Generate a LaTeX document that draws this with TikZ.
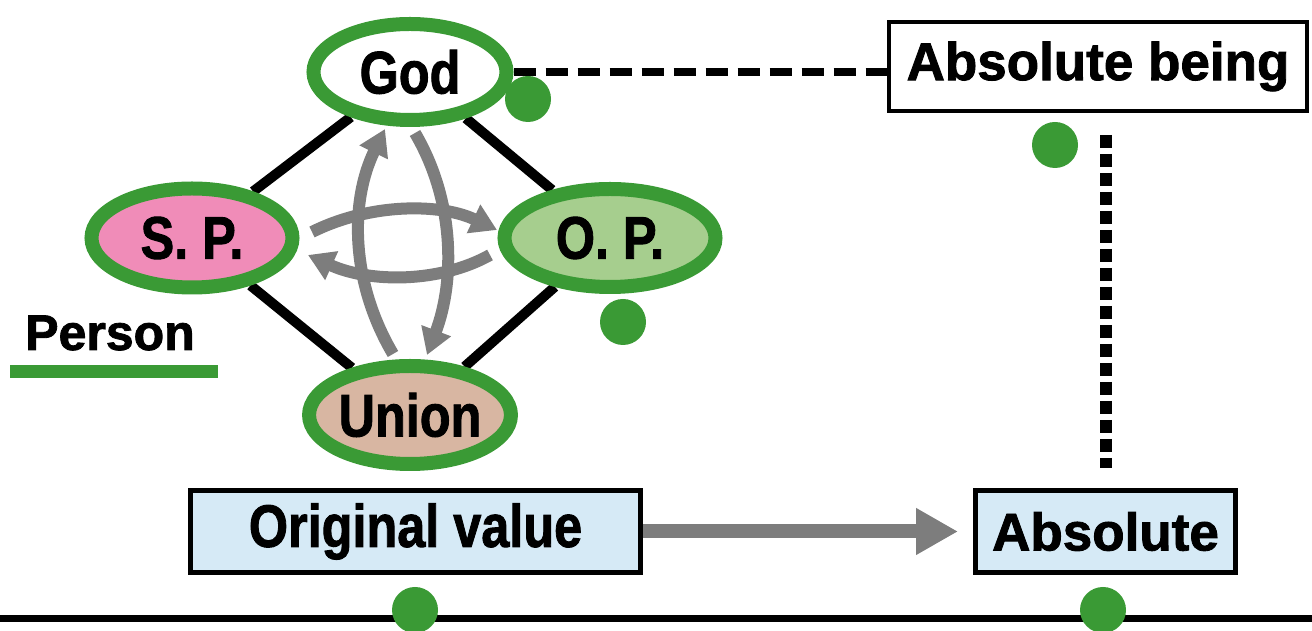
\documentclass[tikz,border=0pt]{standalone}
\usepackage{fontspec}
\setmainfont{Liberation Sans}[BoldFeatures={FakeBold=1.6}]
\usepackage{graphicx}
\usetikzlibrary{shapes.geometric,arrows.meta,backgrounds}

\definecolor{pgreen}{RGB}{58,154,53}
\definecolor{spfill}{RGB}{240,140,184}
\definecolor{opfill}{RGB}{166,206,142}
\definecolor{unfill}{RGB}{216,182,162}
\definecolor{boxblue}{RGB}{214,234,246}
\definecolor{arcgray}{RGB}{125,125,125}
\newcommand{\narrow}[1]{\scalebox{0.84}[1]{#1}}

\begin{document}
\begin{tikzpicture}[x=1pt,y=1pt,
  every node/.style={font=\bfseries\fontsize{60}{64}\selectfont},
  oval/.style={ellipse,draw=pgreen,line width=14pt,inner sep=0pt},
  valbox/.style={draw=black,line width=5pt,fill=boxblue,inner sep=0pt,minimum height=82pt},
  dot/.style={circle,fill=pgreen,inner sep=0pt,minimum size=46pt},
  diag/.style={line width=10pt},
  grayarc/.style={draw=arcgray,line width=12pt,-{Triangle[length=26pt,width=30pt]}}]
\useasboundingbox (0,0) rectangle (1312,631);
% ovals of the person
\node[oval,fill=white,minimum width=193pt,minimum height=96pt] (god) at (410,559) {\narrow{God}};
\node[oval,fill=spfill,minimum width=201pt,minimum height=99pt] (sp) at (192,393) {\narrow{S. P.}};
\node[oval,fill=opfill,minimum width=211pt,minimum height=98pt] (op) at (610,393) {\narrow{O. P.}};
\node[oval,fill=unfill,minimum width=196pt,minimum height=98pt] (union) at (410,216) {\narrow{Union}};
\begin{scope}[on background layer]
\draw[diag] (god) -- (sp) -- (union) -- (op) -- (god);
\end{scope}
% give and take
\draw[grayarc] (393,277) .. controls (350,350) and (350,430) .. (385,502);
\draw[grayarc] (415,498) .. controls (455,430) and (455,350) .. (427,276);
\draw[grayarc] (312,399) .. controls (370,428) and (440,428) .. (497,401);
\draw[grayarc] (490,376) .. controls (440,348) and (370,348) .. (308,376);
% person label
\node[font=\bfseries\fontsize{50}{54}\selectfont] (person) at (110,298) {Person};
\fill[pgreen] (10,253) rectangle (218,266);
% boxes
\node[draw=black,line width=4pt,fill=white,inner sep=0pt,minimum width=418pt,minimum height=89pt,
  font=\bfseries\fontsize{53}{57}\selectfont] (absbeing) at (1098,564.5) {Absolute being};
\node[valbox,minimum width=450pt] (orig) at (415.5,99.5) {\narrow{Original value}};
\node[valbox,minimum width=260pt,font=\bfseries\fontsize{53}{57}\selectfont] (absolute) at (1105.5,99.5) {Absolute};
\draw[line width=8pt,dash pattern=on 22pt off 10pt] (god.east) -- (god.east -| absbeing.west);
\draw[line width=12pt,dash pattern=on 13pt off 6pt,shorten >=20pt,shorten <=22pt]
  (absolute.north |- absbeing.south) -- (absolute.north);
\draw[draw=arcgray,line width=14pt,-{Triangle[length=42pt,width=44pt]},shorten >=15pt] (orig.east) -- (absolute.west);
% base line
\coordinate (baseL) at (0,12.5);
\coordinate (baseR) at (1312,12.5);
\draw[line width=7pt] (baseL) -- (baseR);
% green dots
\node[dot] (d1) at (528,532) {};
\node[dot] (d2) at (623,309) {};
\node[dot] (d3) at (1055,486) {};
\node[dot] (d4) at (415,21) {};
\node[dot] (d5) at (1103,21) {};
\end{tikzpicture}
\end{document}
